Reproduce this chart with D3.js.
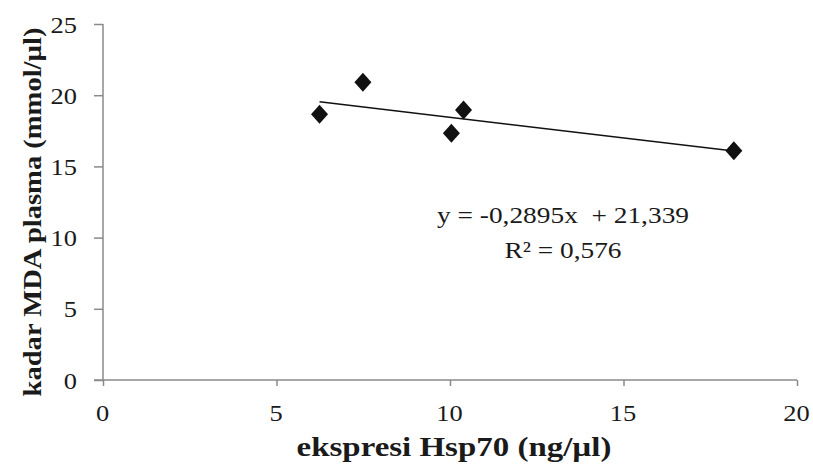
<!DOCTYPE html>
<html>
<head>
<meta charset="utf-8">
<script src="https://cdn.jsdelivr.net/npm/d3@7"></script>
<style>
  html, body { margin: 0; padding: 0; background: #fff; }
  svg { display: block; }
  text { font-family: "Liberation Serif", "Times New Roman", serif; fill: #1a1a1a; }
</style>
</head>
<body>
<svg id="chart" width="813" height="466"></svg>
<script>
// ---- data ----
const hsp70 = [6.24, 7.49, 10.04, 10.39, 18.18];
const mda = [18.66, 20.91, 17.32, 18.96, 16.10];
const xTicks = [0, 5, 10, 15, 20];
const yTicks = [0, 5, 10, 15, 20, 25];
const trendSlope = -0.2895;
const trendIntercept = 21.339;
const equationLines = ["y = -0,2895x  + 21,339", "R² = 0,576"];
const xTitle = "ekspresi Hsp70 (ng/µl)";
const yTitle = "kadar MDA plasma (mmol/µl)";

// ---- layout ----
const svg = d3.select("#chart");
const x = d3.scaleLinear().domain([0, 20]).range([103, 797]);
const y = d3.scaleLinear().domain([0, 25]).range([380, 24]);
const axisColor = "#8a8a8a";

// y axis
const yAxis = svg.append("g").attr("transform", `translate(${x(0)},0)`)
  .call(d3.axisLeft(y).tickValues(yTicks).tickSize(9).tickPadding(0).tickFormat(d3.format("d")));
yAxis.select(".domain").attr("stroke", axisColor).attr("stroke-width", 1.5).attr("d", `M0,${y(25)}V${y(0)}`);
yAxis.selectAll(".tick line").attr("stroke", axisColor).attr("stroke-width", 1.5);
yAxis.selectAll(".tick text").remove();
yAxis.selectAll(".tick").append("text")
  .attr("transform", `translate(-26,8) scale(1.15,1)`)
  .attr("text-anchor", "end")
  .style("font-size", "23px")
  .style("fill", "#1a1a1a")
  .text(d => d);

// x axis
const xAxis = svg.append("g").attr("transform", `translate(0,${y(0)})`)
  .call(d3.axisBottom(x).tickValues(xTicks).tickSize(6).tickPadding(0).tickFormat(d3.format("d")));
xAxis.select(".domain").attr("stroke", axisColor).attr("stroke-width", 1.5).attr("d", `M${x(0) - 9},0H${x(20)}`);
xAxis.selectAll(".tick line").attr("stroke", axisColor).attr("stroke-width", 1.5);
xAxis.selectAll(".tick text").remove();
xAxis.selectAll(".tick").append("text")
  .attr("transform", `translate(-1,41) scale(1.15,1)`)
  .attr("text-anchor", "middle")
  .style("font-size", "23px")
  .style("fill", "#1a1a1a")
  .text(d => d);

// trendline
const xMin = d3.min(hsp70), xMax = d3.max(hsp70);
svg.append("line")
  .attr("x1", x(xMin)).attr("y1", y(trendSlope * xMin + trendIntercept))
  .attr("x2", x(xMax)).attr("y2", y(trendSlope * xMax + trendIntercept))
  .attr("stroke", "#111").attr("stroke-width", 1.5);

// markers
const diamond = "M0,-9.5L8.5,0L0,9.5L-8.5,0Z";
svg.append("g").selectAll("path")
  .data(hsp70.map((v, i) => [v, mda[i]]))
  .join("path")
  .attr("d", diamond)
  .attr("transform", d => `translate(${x(d[0])},${y(d[1])})`)
  .attr("fill", "#111");

// equation
equationLines.forEach((t, i) => {
  svg.append("text")
    .attr("transform", `translate(563,${223 + i * 35}) scale(1.19,1)`)
    .attr("text-anchor", "middle")
    .style("font-size", "23px")
    .style("white-space", "pre")
    .attr("xml:space", "preserve")
    .text(t);
});

// axis titles
svg.append("text")
  .attr("transform", `translate(454,456) scale(1.22,1)`)
  .attr("text-anchor", "middle")
  .style("font-size", "27px")
  .style("font-weight", "bold")
  .text(xTitle);

svg.append("text")
  .attr("transform", `translate(41,212) rotate(-90) scale(1.12,1)`)
  .attr("text-anchor", "middle")
  .style("font-size", "25.5px")
  .style("font-weight", "bold")
  .text(yTitle);
</script>
</body>
</html>
